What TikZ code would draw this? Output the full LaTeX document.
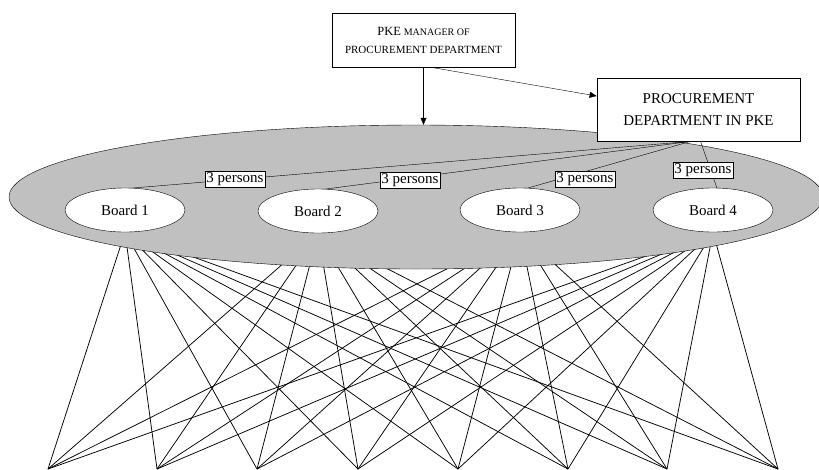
\documentclass[tikz,border=0pt]{standalone}
\usepackage{fontspec}
\setmainfont{Liberation Serif}
\usetikzlibrary{shapes.geometric,arrows.meta,calc}
\definecolor{discgray}{RGB}{192,192,192}
\pgfdeclarelayer{fan}
\pgfdeclarelayer{disc}
\pgfsetlayers{fan,disc,main}
\begin{document}
\begin{tikzpicture}[x=1pt,y=-1pt,line width=0.8pt,
  box/.style={draw,fill=white,rectangle,inner sep=0pt,align=center},
  board/.style={draw,fill=white,ellipse,inner sep=0pt,minimum width=120pt,minimum height=44pt,font=\fontsize{15}{18}\selectfont},
  tag/.style={draw,fill=white,inner sep=1.5pt,font=\fontsize{15}{18}\selectfont},
  arr/.style={-{Triangle[length=7pt,width=6pt]}},
  fanline/.style={line width=0.75pt}]
\useasboundingbox (0,0) rectangle (819,469);

% top boxes
\node[box,minimum width=183pt,minimum height=54pt,font=\fontsize{11}{18}\selectfont] (mgr) at (423.5,40)
  {{\fontsize{12.5}{18}\selectfont PKE} {\fontsize{10}{18}\selectfont MANAGER OF}\\PROCUREMENT DEPARTMENT};
\node[box,minimum width=203pt,minimum height=63pt,font=\fontsize{15}{22}\selectfont] (proc) at (698.5,109.5)
  {PROCUREMENT\\DEPARTMENT IN PKE};

% big disc
\begin{pgfonlayer}{disc}
\node[ellipse,draw,fill=discgray,inner sep=0pt,minimum width=814pt,minimum height=144pt] (big) at (416,197) {};
\end{pgfonlayer}

% boards
\node[board] (b1) at (125,210) {Board 1};
\node[board] (b2) at (318,211) {Board 2};
\node[board] (b3) at (520,210) {Board 3};
\node[board] (b4) at (713,210) {Board 4};

% bottom points
\coordinate (p1) at (48,469);
\coordinate (p2) at (157,469);
\coordinate (p3) at (257,469);
\coordinate (p4) at (358,469);
\coordinate (p5) at (458,469);
\coordinate (p6) at (568,469);
\coordinate (p7) at (667,469);
\coordinate (p8) at (778,469);

\begin{pgfonlayer}{fan}
\foreach \b in {b1,b2,b3,b4}{
  \foreach \k in {1,...,8}{
    \draw[fanline] (\b.south) -- (p\k);
  }
}
\end{pgfonlayer}

% arrows from manager
\draw[arr] (mgr.south) -- (mgr.south |- big.north);
\coordinate (mgrout) at ($(mgr.south)+(8,0)$);
\coordinate (procin) at ($(proc.west)+(0,-13.5)$);
\draw[arr] (mgrout) -- (procin);

% connectors from procurement department to boards
\coordinate (hub) at ($(proc.south)+(-8,0)$);
\coordinate (hubr) at ($(proc.south)+(2,0)$);
\draw (hub) -- (b1.70);
\draw (hub) -- (b2.70);
\draw (hub) -- (b3.70);
\draw (hubr) -- (b4.80);

% labels
\node[tag] (t1) at (235,179.5) {3 persons};
\node[tag] (t2) at (410,180) {3 persons};
\node[tag] (t3) at (585,179) {3 persons};
\node[tag] (t4) at (703,170) {3 persons};
\end{tikzpicture}
\end{document}
